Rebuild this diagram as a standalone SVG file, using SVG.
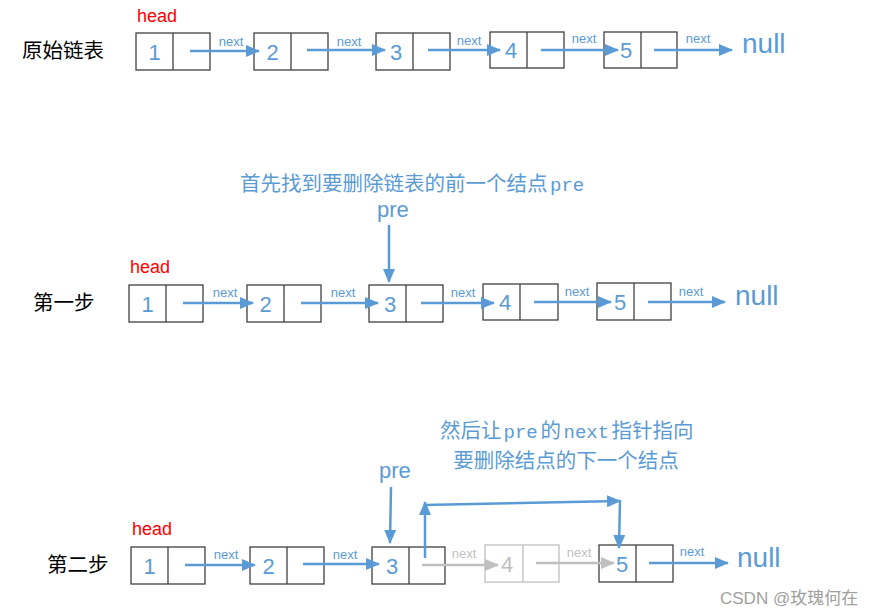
<svg xmlns="http://www.w3.org/2000/svg" width="872" height="616" viewBox="0 0 872 616">
<style>
.box{fill:#fff;stroke:#404040;stroke-width:1.3}
.gbox{fill:#fff;stroke:#BFBFBF;stroke-width:1.3}
.num{font-family:"Liberation Sans","Noto Sans",sans-serif;font-size:22px;fill:#5B9BD5;text-anchor:middle}
.gnum{font-family:"Liberation Sans","Noto Sans",sans-serif;font-size:22px;fill:#BFBFBF;text-anchor:middle}
.nx{font-family:"Liberation Sans","Noto Sans",sans-serif;font-size:13px;fill:#5B9BD5;text-anchor:middle}
.gnx{font-family:"Liberation Sans","Noto Sans",sans-serif;font-size:13px;fill:#BFBFBF;text-anchor:middle}
.null{font-family:"Liberation Sans","Noto Sans",sans-serif;font-size:28px;fill:#5B9BD5}
.head{font-family:"Liberation Sans","Noto Sans",sans-serif;font-size:18px;fill:#FF0000}
.lbl{font-family:"Liberation Sans","Noto Sans CJK SC",sans-serif;font-size:20.5px;fill:#000}
.pre{font-family:"Liberation Sans","Noto Sans",sans-serif;font-size:22px;fill:#5B9BD5}
.note{font-family:"Noto Sans CJK SC",sans-serif;font-size:20.5px;fill:#5B9BD5}
.mono{font-family:"Liberation Mono",monospace;font-size:19px;fill:#5B9BD5}
.arr{stroke:#5B9BD5;stroke-width:2.5;fill:none;marker-end:url(#ab)}
.garr{stroke:#BFBFBF;stroke-width:2.5;fill:none;marker-end:url(#ag)}
.wm{font-family:"Liberation Sans","Noto Sans CJK SC",sans-serif;font-size:17px;fill:#A0A0A0}
</style>
<defs>
<marker id="ab" markerUnits="userSpaceOnUse" markerWidth="14" markerHeight="12" refX="13" refY="6" orient="auto"><path d="M0,0 L14,6 L0,12 Z" fill="#5B9BD5"/></marker>
<marker id="ag" markerUnits="userSpaceOnUse" markerWidth="14" markerHeight="12" refX="13" refY="6" orient="auto"><path d="M0,0 L14,6 L0,12 Z" fill="#BFBFBF"/></marker>
</defs>
<rect width="872" height="616" fill="#fff"/>

<!-- Row 1 -->
<text class="lbl" x="22" y="58">原始链表</text>
<text class="head" x="137" y="22">head</text>
<g id="r1n1"><rect class="box" x="136" y="33" width="74" height="37"/><line class="box" x1="173" y1="33" x2="173" y2="70"/><text class="num" x="154.5" y="60">1</text></g>
<g id="r1n2"><rect class="box" x="254" y="33" width="74" height="37"/><line class="box" x1="291" y1="33" x2="291" y2="70"/><text class="num" x="272.5" y="60">2</text></g>
<g id="r1n3"><rect class="box" x="376" y="33" width="74" height="37"/><line class="box" x1="413" y1="33" x2="413" y2="70"/><text class="num" x="396" y="60">3</text></g>
<g id="r1n4"><rect class="box" x="490" y="32" width="74" height="36"/><line class="box" x1="527" y1="32" x2="527" y2="68"/><text class="num" x="511" y="58">4</text></g>
<g id="r1n5"><rect class="box" x="604" y="32" width="73" height="36"/><line class="box" x1="641" y1="32" x2="641" y2="68"/><text class="num" x="626" y="58">5</text></g>
<text class="null" x="742" y="53">null</text>
<g id="r1conn">
<line class="arr" x1="190" y1="51" x2="259" y2="51"/>
<line class="arr" x1="307" y1="50" x2="385" y2="50"/>
<line class="arr" x1="428" y1="50" x2="500" y2="50"/>
<line class="arr" x1="541" y1="50" x2="618" y2="50"/>
<line class="arr" x1="654" y1="50" x2="732" y2="50"/>
<text class="nx" x="231" y="46">next</text>
<text class="nx" x="349" y="46">next</text>
<text class="nx" x="469" y="45">next</text>
<text class="nx" x="584" y="43">next</text>
<text class="nx" x="698" y="43">next</text>
</g>

<!-- Row 2 -->
<text class="note" x="240" y="191">首先找到要删除链表的前一个结点</text>
<text class="mono" x="550" y="191">pre</text>
<text class="pre" x="377" y="217">pre</text>
<text class="lbl" x="33" y="310">第一步</text>
<text class="head" x="130" y="273">head</text>
<g id="r2n1"><rect class="box" x="129" y="285" width="74" height="37"/><line class="box" x1="166" y1="285" x2="166" y2="322"/><text class="num" x="147.5" y="312">1</text></g>
<g id="r2n2"><rect class="box" x="247" y="285" width="74" height="37"/><line class="box" x1="284" y1="285" x2="284" y2="322"/><text class="num" x="265.5" y="312">2</text></g>
<g id="r2n3"><rect class="box" x="369" y="285" width="74" height="37"/><line class="box" x1="406" y1="285" x2="406" y2="322"/><text class="num" x="390" y="312">3</text></g>
<g id="r2n4"><rect class="box" x="483" y="284" width="75" height="36"/><line class="box" x1="520" y1="284" x2="520" y2="320"/><text class="num" x="505" y="310">4</text></g>
<g id="r2n5"><rect class="box" x="597" y="283" width="74" height="37"/><line class="box" x1="634" y1="283" x2="634" y2="320"/><text class="num" x="620" y="310">5</text></g>
<text class="null" x="735" y="305">null</text>
<g id="r2conn">
<line class="arr" x1="389" y1="225" x2="389" y2="282"/>
<line class="arr" x1="183" y1="303" x2="253" y2="303"/>
<line class="arr" x1="301" y1="303" x2="378" y2="303"/>
<line class="arr" x1="421" y1="303" x2="494" y2="303"/>
<line class="arr" x1="534" y1="302" x2="611" y2="302"/>
<line class="arr" x1="648" y1="302" x2="725" y2="302"/>
<text class="nx" x="225" y="297">next</text>
<text class="nx" x="343" y="297">next</text>
<text class="nx" x="463" y="297">next</text>
<text class="nx" x="577" y="296">next</text>
<text class="nx" x="691" y="296">next</text>
</g>

<!-- Row 3 -->
<text class="note" x="440" y="438">然后让</text>
<text class="mono" x="503.5" y="438">pre</text>
<text class="note" x="540.5" y="438">的</text>
<text class="mono" x="563.5" y="438">next</text>
<text class="note" x="611.5" y="438">指针指向</text>
<text class="note" text-anchor="middle" x="566" y="468">要删除结点的下一个结点</text>
<text class="pre" x="379" y="478">pre</text>
<text class="lbl" x="47" y="572">第二步</text>
<text class="head" x="132" y="535">head</text>
<g id="r3n1"><rect class="box" x="131" y="547" width="74" height="37"/><line class="box" x1="168" y1="547" x2="168" y2="584"/><text class="num" x="149.5" y="574">1</text></g>
<g id="r3n2"><rect class="box" x="250" y="547" width="74" height="37"/><line class="box" x1="287" y1="547" x2="287" y2="584"/><text class="num" x="268.5" y="574">2</text></g>
<g id="r3n3"><rect class="box" x="372" y="547" width="73" height="37"/><line class="box" x1="409" y1="547" x2="409" y2="584"/><text class="num" x="392" y="574">3</text></g>
<g id="r3n4"><rect class="gbox" x="485" y="545" width="74" height="37"/><line class="gbox" x1="523" y1="545" x2="523" y2="582"/><text class="gnum" x="507" y="572">4</text></g>
<g id="r3n5"><rect class="box" x="599" y="545" width="74" height="37"/><line class="box" x1="636" y1="545" x2="636" y2="582"/><text class="num" x="622" y="572">5</text></g>
<text class="null" x="737" y="567">null</text>
<g id="r3conn">
<line class="arr" x1="391" y1="487" x2="390" y2="543"/>
<line class="arr" x1="185" y1="565" x2="255" y2="565"/>
<line class="arr" x1="303" y1="564" x2="379" y2="564"/>
<line class="garr" x1="422" y1="565" x2="498" y2="565"/>
<line class="garr" x1="536" y1="563" x2="614" y2="563"/>
<line class="arr" x1="649" y1="563" x2="728" y2="563"/>
<line class="arr" x1="425" y1="558" x2="425" y2="502"/>
<line class="arr" x1="424" y1="505" x2="620" y2="501"/>
<line class="arr" x1="620" y1="500" x2="619" y2="548"/>
<text class="nx" x="226" y="559">next</text>
<text class="nx" x="345" y="559">next</text>
<text class="gnx" x="464" y="558">next</text>
<text class="gnx" x="579" y="557">next</text>
<text class="nx" x="692" y="556">next</text>
</g>
<text class="wm" x="720" y="604">CSDN @玫瑰何在</text>
</svg>
